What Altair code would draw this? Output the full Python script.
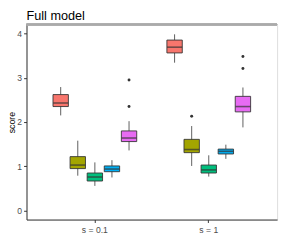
import altair as alt
import pandas as pd

s_levels = ["s = 0.1", "s = 1"]
groups = ["1", "2", "3", "4", "5"]
colors = ["#F8766D", "#A3A500", "#00BF7D", "#00B0F6", "#E76BF3"]

# per box, order: s = 0.1 (groups 1..5), then s = 1 (groups 1..5)
box_s = ["s = 0.1"] * 5 + ["s = 1"] * 5
box_g = groups + groups
whisker_lo = [2.15, 0.79, 0.56, 0.75, 1.36, 3.34, 1.01, 0.77, 1.17, 1.88]
q1 = [2.35, 0.95, 0.67, 0.88, 1.56, 3.56, 1.31, 0.85, 1.28, 2.23]
median = [2.43, 1.03, 0.76, 0.94, 1.64, 3.69, 1.38, 0.92, 1.34, 2.35]
q3 = [2.62, 1.22, 0.85, 1.01, 1.80, 3.85, 1.61, 1.03, 1.39, 2.58]
whisker_hi = [2.79, 1.58, 1.09, 1.14, 2.02, 3.98, 1.91, 1.25, 1.49, 2.78]

out_s = ["s = 0.1", "s = 0.1", "s = 1", "s = 1", "s = 1"]
out_g = ["5", "5", "2", "5", "5"]
out_v = [2.95, 2.35, 2.13, 3.48, 3.21]

boxes = pd.DataFrame({"s": box_s, "group": box_g, "lo": whisker_lo, "q1": q1,
                      "med": median, "q3": q3, "hi": whisker_hi})
outs = pd.DataFrame({"s": out_s, "group": out_g, "v": out_v})

xenc = alt.X("s:N", sort=s_levels,
             scale=alt.Scale(paddingInner=0.25, paddingOuter=0.225),
             axis=alt.Axis(title=None, labelAngle=0, labelFontSize=8.8,
                           labelColor="#4D4D4D", tickColor="#333333", tickSize=3,
                           domainColor="#333333", labelPadding=3,
                           labelFont="Liberation Sans"))
xoff = alt.XOffset("group:N", sort=groups,
                   scale=alt.Scale(paddingInner=0.1, paddingOuter=0.05))
yscale = alt.Scale(domain=[-0.2, 4.2], nice=False, zero=False)
yaxis = alt.Axis(title="score", values=[0, 1, 2, 3, 4], grid=False,
                 labelFontSize=8.8, labelColor="#4D4D4D", tickColor="#333333",
                 tickSize=3, domainColor="#333333", labelPadding=2,
                 titleFontSize=9, titleFontWeight="normal", titleColor="#000000",
                 titlePadding=0, labelFont="Liberation Sans", titleFont="Liberation Sans")
cscale = alt.Scale(domain=groups, range=colors)

base = alt.Chart(boxes)

whisk = base.mark_rule(color="#333333", strokeWidth=0.8).encode(
    x=xenc, xOffset=xoff,
    y=alt.Y("lo:Q", scale=yscale, axis=yaxis), y2="hi:Q")

box = base.mark_bar(stroke="#333333", strokeWidth=0.9).encode(
    x=xenc, xOffset=xoff,
    y=alt.Y("q1:Q", scale=yscale, axis=yaxis), y2="q3:Q",
    color=alt.Color("group:N", scale=cscale, legend=None))

med = base.mark_tick(color="#333333", thickness=1.6, size=15.5, orient="horizontal").encode(
    x=xenc, xOffset=xoff,
    y=alt.Y("med:Q", scale=yscale, axis=yaxis))

pts = alt.Chart(outs).mark_circle(color="#333333", size=9, opacity=1).encode(
    x=xenc, xOffset=xoff,
    y=alt.Y("v:Q", scale=yscale, axis=yaxis))

topline = alt.Chart(boxes).mark_rule(color="#AAAAAA", strokeWidth=1.5).encode(
    x=alt.value(0), x2=alt.value(257), y=alt.value(0))

chart = alt.layer(whisk, box, med, pts, topline).properties(
    width=257, height=200,
    title=alt.TitleParams("Full model", anchor="start", frame="group", fontSize=13,
                          fontWeight="normal", color="#000000", offset=1,
                          font="Liberation Sans"),
    padding={"left": 19, "top": 14, "right": 4, "bottom": 19},
    autosize=alt.AutoSizeParams(type="none"),
).configure_view(stroke="#333333", strokeWidth=1).configure(background="white")

chart.save("out.html", embed_options={"renderer": "svg", "actions": False})
